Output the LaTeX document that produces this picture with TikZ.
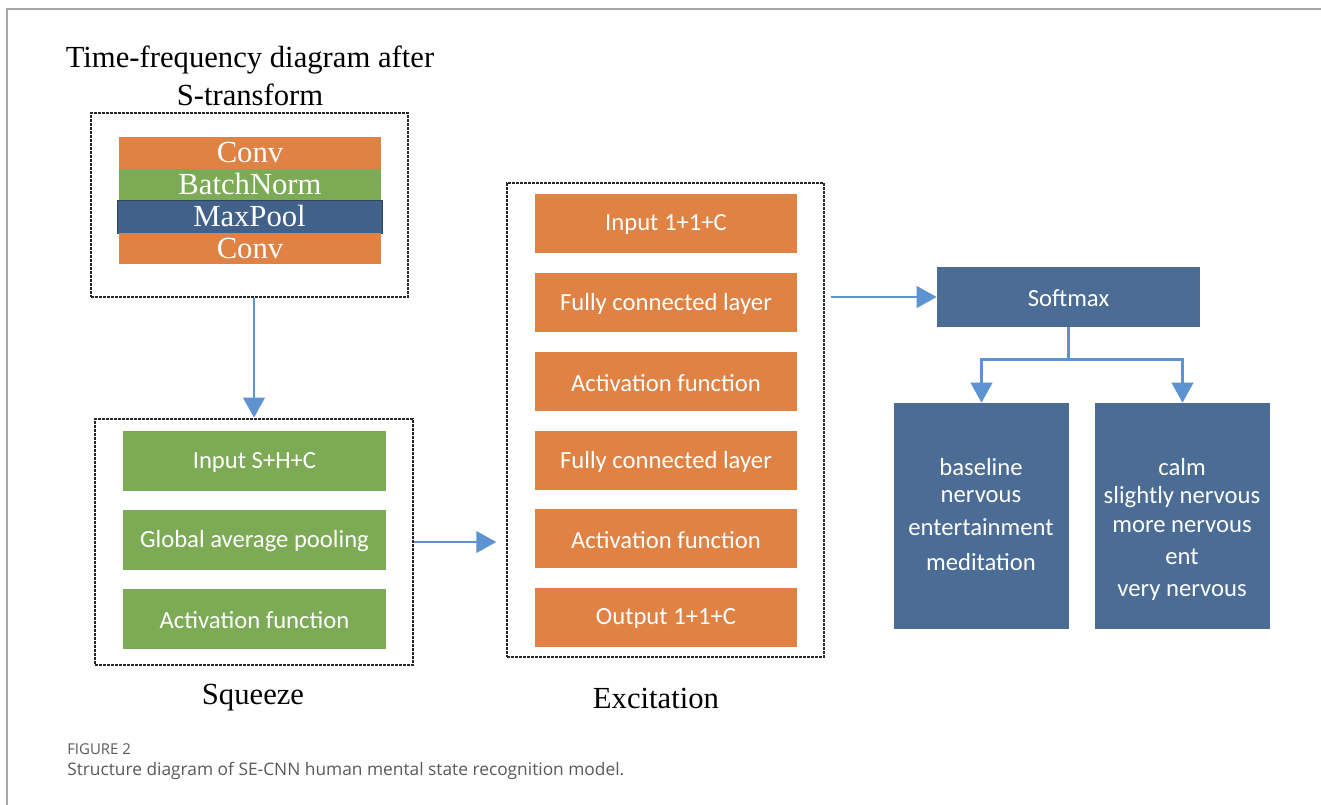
\documentclass[tikz,border=0pt]{standalone}
\usepackage{fontspec}
\setmainfont{Liberation Serif}
\newfontfamily\calib{Carlito}
\newfontfamily\capfont{Open Sans}
\usetikzlibrary{arrows.meta,fit}
\definecolor{orng}{HTML}{DF8244}
\definecolor{grn}{HTML}{7DAB55}
\definecolor{dblue}{HTML}{4A6C95}
\definecolor{mblue}{HTML}{41618A}
\definecolor{arrblue}{HTML}{5E93D1}
\definecolor{capgray}{HTML}{5A5A5A}
\definecolor{framegray}{HTML}{A8A8A8}
\tikzset{
  box/.style={inner sep=0pt, text=white},
  obox/.style={box, fill=orng},
  gbox/.style={box, fill=grn},
  bbox/.style={box, fill=dblue},
  tbox/.style={box},
  dotbox/.style={draw=black!85, line width=2pt, dash pattern=on 1.9pt off 1.1pt, inner sep=0pt},
  arr/.style={draw=arrblue, line width=2.2pt, -{Triangle[length=15pt,width=16pt]}},
  lbl/.style={text=white, font=\calib\fontsize{18.5}{22}\selectfont, inner sep=0pt},
  tlbl/.style={text=white, font=\fontsize{23}{26}\selectfont, inner sep=0pt},
  ttl/.style={font=\fontsize{23}{28.5}\selectfont, inner sep=0pt, align=center},
}
\begin{document}
\begin{tikzpicture}[x=0.75pt,y=-0.75pt]
\useasboundingbox (0,0) rectangle (1321,805);
\fill[white] (0,0) rectangle (1321,805);
% frame
\draw[framegray, line width=0.9pt] (7,805) -- (7,9) -- (1321,9);

% title
\node[ttl] (title) at (250,76) {Time-frequency diagram after\\S-transform};

% top block
\node[dotbox, fit={(91,113) (408,297)}] (tb) {};
\node[tbox, fill=orng, fit={(119,137) (381,169)}] (c1) {};
\node[tlbl] at (c1.center) {Conv};
\node[tbox, fill=grn, fit={(119,169) (381,200)}] (bn) {};
\node[tlbl] at (bn.center) {BatchNorm};
\node[tbox, fill=mblue, draw=mblue!70!black, line width=0.6pt, fit={(117,200) (382,233)}] (mp) {};
\node[tlbl] at (mp.center) {MaxPool};
\node[tbox, fill=orng, fit={(119,233) (381,264)}] (c2) {};
\node[tlbl] at (c2.center) {Conv};

% squeeze block
\node[dotbox, fit={(95,419) (413,665)}] (sq) {};
\node[gbox, fit={(123,431) (386,491)}] (s1) {};
\node[lbl] at ([yshift=-1pt]s1.center) {Input S+H+C};
\node[gbox, fit={(123,510) (386,570)}] (s2) {};
\node[lbl] at ([yshift=-1pt]s2.center) {Global average pooling};
\node[gbox, fit={(123,589) (386,649)}] (s3) {};
\node[lbl] at ([yshift=-1pt]s3.center) {Activation function};
\node[ttl] (sqlbl) at (253,698) {Squeeze};

% excitation block
\node[dotbox, fit={(507,183) (824,657)}] (ex) {};
\node[obox, fit={(535,194) (797,253)}] (e1) {};
\node[lbl] at ([yshift=-1pt]e1.center) {Input 1+1+C};
\node[obox, fit={(535,273) (797,332)}] (e2) {};
\node[lbl] at ([yshift=-1pt]e2.center) {Fully connected layer};
\node[obox, fit={(535,352) (797,411)}] (e3) {};
\node[lbl] at ([yshift=-1pt]e3.center) {Activation function};
\node[obox, fit={(535,431) (797,490)}] (e4) {};
\node[lbl] at ([yshift=-1pt]e4.center) {Fully connected layer};
\node[obox, fit={(535,509) (797,568)}] (e5) {};
\node[lbl] at ([yshift=-1pt]e5.center) {Activation function};
\node[obox, fit={(535,588) (797,647)}] (e6) {};
\node[lbl] at ([yshift=-1pt]e6.center) {Output 1+1+C};
\node[ttl] (exlbl) at (656,698) {Excitation};

% softmax
\node[bbox, fit={(937,267) (1200,327)}] (sm) {};
\node[lbl] at ([yshift=-1pt]sm.center) {Softmax};
\node[bbox, fit={(894,403) (1069,629)}] (b1) {};
\node[bbox, fit={(1095,403) (1270,629)}] (b2) {};
\node[lbl] (b1a) at (981,467) {baseline};
\node[lbl] (b1b) at (981,497) {nervous};
\node[lbl] (b1c) at (981,527) {entertainment};
\node[lbl] (b1d) at (981,562) {meditation};
\node[lbl] (b2a) at (1182,467) {calm};
\node[lbl] (b2b) at (1182,497) {slightly nervous};
\node[lbl] (b2c) at (1182,527) {more nervous};
\node[lbl] (b2d) at (1182,557) {ent};
\node[lbl] (b2e) at (1182,592) {very nervous};

% connectors
\draw[arr] (tb.south -| sq.north) -- (sq.north);
\draw[arr, shorten >=7pt] (sq.east) -- (sq.east -| ex.west);
\draw[arr, shorten <=4.5pt] (sm.west -| ex.east) -- (sm.west);
\draw[arr] (sm.south) -- ++(0,32) -| (b1.north);
\draw[arr] (sm.south) -- ++(0,32) -| (b2.north);

% caption
\node[anchor=west, inner sep=0pt, text=capgray, font=\capfont\fontsize{11.2}{13}\selectfont] (fig) at (67,749) {FIGURE 2};
\node[anchor=west, inner sep=0pt, text=capgray, font=\capfont\fontsize{13}{15}\selectfont] (cap) at (67,771) {Structure diagram of SE-CNN human mental state recognition model.};
\end{tikzpicture}
\end{document}
